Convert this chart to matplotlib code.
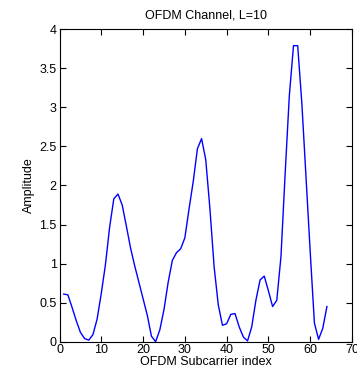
import numpy as np
import matplotlib
matplotlib.use("Agg")
import matplotlib.pyplot as plt

# subcarrier index and channel amplitude
subcarrier = np.arange(1, 65)
amplitude = [0.61, 0.60, 0.44, 0.27, 0.12, 0.04, 0.02, 0.09, 0.29, 0.62,
             0.99, 1.47, 1.83, 1.89, 1.75, 1.48, 1.20, 0.97, 0.76, 0.55,
             0.34, 0.07, 0.00, 0.15, 0.41, 0.76, 1.04, 1.14, 1.19, 1.33,
             1.70, 2.05, 2.47, 2.60, 2.33, 1.70, 0.96, 0.47, 0.21, 0.23,
             0.35, 0.36, 0.19, 0.06, 0.01, 0.19, 0.53, 0.79, 0.84, 0.65,
             0.45, 0.53, 1.09, 2.15, 3.15, 3.79, 3.79, 3.05, 2.10, 1.15,
             0.24, 0.03, 0.17, 0.45]

plt.rcParams['font.family'] = ['Liberation Sans', 'DejaVu Sans']
plt.rcParams['font.size'] = 9

fig = plt.figure(figsize=(3.57, 3.74), dpi=100)
ax = fig.add_axes([0.1667, 0.0864, 0.8193, 0.8353])
ax.plot(subcarrier, amplitude, '-', color=(0, 0, 1), lw=1.0)

ax.set_xlim(0, 70)
ax.set_ylim(0, 4)
ax.set_xticks(np.arange(0, 71, 10))
ax.set_yticks(np.arange(0, 4.01, 0.5))
ax.set_yticklabels(['0', '0.5', '1', '1.5', '2', '2.5', '3', '3.5', '4'])
ax.tick_params(direction='in', top=True, right=True, length=4, width=0.8, pad=2)
for s in ax.spines.values():
    s.set_linewidth(0.8)

ax.set_xlabel('OFDM Subcarrier index', labelpad=0)
ax.set_ylabel('Amplitude', labelpad=3)
ax.set_title('OFDM Channel, L=10', pad=8, fontsize=9)

fig.savefig("out.png", dpi=100)
